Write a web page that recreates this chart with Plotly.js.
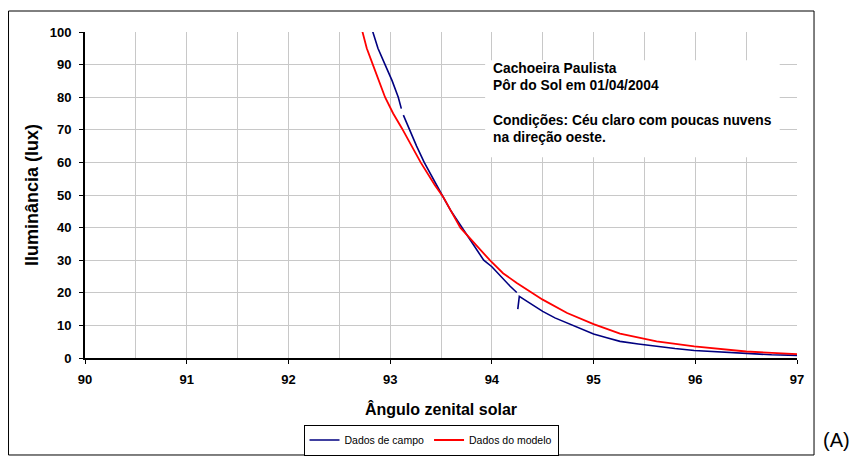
<!DOCTYPE html>
<html>
<head>
<meta charset="utf-8">
<script src="https://cdn.plot.ly/plotly-3.0.1.min.js"></script>
<style>
html,body{margin:0;padding:0;background:#fff;}
#chart{width:857px;height:461px;}
</style>
</head>
<body>
<div id="chart"></div>
<script>
// Field data (Dados de campo)
const campoX = [92.82, 92.88, 92.95, 93.02, 93.08, 93.11, null, 93.13, 93.19, 93.26, 93.335, 93.42, 93.51, 93.60, 93.705, 93.81, 93.92, 94.0, 94.1, 94.18, 94.245, null, 94.255, 94.27, 94.35, 94.5, 94.62, 94.74, 94.87, 95.0, 95.13, 95.26, 95.44, 95.62, 95.8, 95.99, 96.25, 96.5, 96.75, 97.0];
const campoY = [101, 95, 90, 85, 80, 76.5, null, 74.5, 70, 65, 60, 55, 50, 45, 40, 35, 30, 28, 24.5, 22, 20.1, null, 15.0, 18.9, 17.3, 14.3, 12.3, 10.7, 9.0, 7.35, 6.2, 5.1, 4.3, 3.56, 2.9, 2.3, 1.8, 1.3, 1.0, 0.8];
// Model data (Dados do modelo)
const modeloX = [92.72, 92.77, 92.83, 92.89, 92.95, 93.03, 93.115, 93.30, 93.44, 93.52, 93.69, 93.98, 94.11, 94.245, 94.5, 94.74, 95.0, 95.26, 95.62, 95.99, 96.5, 97.0];
const modeloY = [101, 95, 90, 85, 80, 75, 70.5, 60, 53, 49.5, 40, 30, 26.0, 23.0, 17.9, 13.8, 10.4, 7.45, 5.1, 3.56, 2.0, 1.2];
// Text
const infoLines = ["Cachoeira Paulista", "Pôr do Sol em 01/04/2004", "Condições: Céu claro com poucas nuvens", "na direção oeste."];
const infoY = [88.66, 83.45, 72.72, 67.51];
const xTicks = [90, 91, 92, 93, 94, 95, 96, 97];

const FONT = "Liberation Sans, Arial, sans-serif";

const traces = [
  {x: campoX, y: campoY, mode: 'lines', name: 'Dados de campo', line: {color: '#000080', width: 1.6}, connectgaps: false},
  {x: modeloX, y: modeloY, mode: 'lines', name: 'Dados do modelo', line: {color: '#ff0000', width: 1.8}}
];

const annotations = infoLines.map((t, i) => ({
  xref: 'x', yref: 'y', x: 93.99, y: infoY[i], xanchor: 'left', yanchor: 'middle',
  text: '<b>' + t + '</b>', showarrow: false, font: {family: FONT, size: 13.8, color: '#000'}
}));
annotations.push({
  xref: 'paper', yref: 'paper', x: 1.056, y: -0.2515, xanchor: 'center', yanchor: 'middle',
  text: '(A)', showarrow: false, font: {family: FONT, size: 20, color: '#000'}
});

const layout = {
  width: 857, height: 461,
  margin: {l: 84.5, r: 60, t: 32, b: 103},
  paper_bgcolor: '#fff', plot_bgcolor: '#fff',
  font: {family: FONT, color: '#000'},
  showlegend: true,
  legend: {
    orientation: 'h', xref: 'container', yref: 'container',
    x: 431 / 857, y: 1 - 440 / 461, xanchor: 'center', yanchor: 'middle',
    bordercolor: '#000', borderwidth: 1, bgcolor: '#fff',
    font: {family: FONT, size: 10.5}, itemwidth: 30
  },
  xaxis: {
    range: [90, 97], tickvals: xTicks, showgrid: true, gridcolor: '#c8c8c8', gridwidth: 1,
    minor: {dtick: 0.5, showgrid: true, gridcolor: '#c8c8c8', gridwidth: 1},
    showline: true, linecolor: '#000', linewidth: 2, ticks: 'outside', ticklen: 4, tickcolor: '#000', tickwidth: 1,
    ticklabelstandoff: 4,
    tickfont: {family: FONT, size: 13, color: '#000', weight: 'bold'},
    zeroline: false,
    title: {text: '<b>Ângulo zenital solar</b>', font: {family: FONT, size: 16}, standoff: 18}
  },
  yaxis: {
    range: [0, 100], dtick: 10, showgrid: true, gridcolor: '#c8c8c8', gridwidth: 1,
    showline: true, linecolor: '#000', linewidth: 2, ticks: 'outside', ticklen: 4, tickcolor: '#000', tickwidth: 1,
    ticklabelstandoff: 5,
    tickfont: {family: FONT, size: 13, color: '#000', weight: 'bold'},
    zeroline: false,
    title: {text: '<b>Iluminância (lux)</b>', font: {family: FONT, size: 18}, standoff: 6}
  },
  shapes: [
    {type: 'rect', xref: 'x', yref: 'y', x0: 93.934, x1: 96.83, y0: 61.6, y1: 91.3, fillcolor: '#fff', line: {width: 0}, layer: 'above'},
    {type: 'rect', xref: 'paper', yref: 'paper', x0: -0.1074, x1: 1.0239, y0: -0.2975, y1: 1.0644, line: {color: '#000', width: 1}, fillcolor: 'rgba(0,0,0,0)', layer: 'above'}
  ],
  annotations: annotations
};

Plotly.newPlot('chart', traces, layout, {displayModeBar: false, staticPlot: true});
</script>
</body>
</html>
